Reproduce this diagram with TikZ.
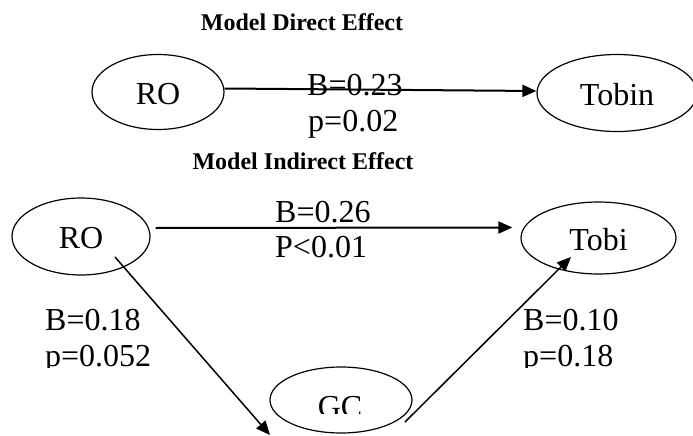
\documentclass[tikz,border=0pt]{standalone}
\usepackage{fontspec}
\setmainfont{Liberation Serif}
\usetikzlibrary{arrows.meta,shapes.geometric}
\begin{document}
\begin{tikzpicture}[x=1pt,y=-1pt,
  oval/.style={ellipse,draw,line width=1.2pt,inner sep=0pt,
    font=\fontsize{32}{36}\selectfont,text height=24pt,text depth=-2pt},
  lbl/.style={inner sep=0pt,anchor=base west,font=\fontsize{32}{36}\selectfont},
  ttl/.style={inner sep=0pt,anchor=base,font=\fontsize{24}{28}\selectfont\bfseries},
  link/.style={-{Triangle[length=14pt,width=12pt]},line width=2pt},
  slant/.style={-{Triangle[length=14pt,width=12pt]},line width=1.5pt}]
\useasboundingbox (0,0) rectangle (693,436);
\fill[white] (0,0) rectangle (693,436);

% direct effect model
\node[ttl] (t1) at (302,31) {Model Direct Effect};
\node[oval,minimum width=132pt,minimum height=75pt] (ro1) at (158,92) {RO};
\node[oval,minimum width=160pt,minimum height=77pt] (tobin) at (617,93) {Tobin};
\draw[link] ([yshift=3.5pt]ro1.east) -- ([yshift=2pt]tobin.west);
\node[lbl] (b1) at (307,95) {B=0.23};
\node[lbl] (p1) at (308,131) {p=0.02};

% indirect effect model
\node[ttl] (t2) at (303,169) {Model Indirect Effect};
\node[oval,minimum width=138pt,minimum height=77pt] (ro2) at (81,236.5) {RO};
\node[oval,minimum width=155pt,minimum height=72pt] (tobi) at (598.5,238) {Tobi};
\node[oval,minimum width=142pt,minimum height=66pt] (gc) at (341,400) {};
\begin{scope}
  \clip (0,0) rectangle (693,413);
  \node[inner sep=0pt,anchor=base,font=\fontsize{32}{36}\selectfont] (gct) at (340,417) {GC};
\end{scope}

\draw[link] ([shift={(5,-8.5)}]ro2.east) -- ([shift={(-8,-10.5)}]tobi.west);
\draw[slant] ([shift={(34,20.5)}]ro2.center) -- ([shift={(-71,35)}]gc.center);
\draw[slant] ([shift={(64,22)}]gc.center) -- ([shift={(-27.5,19)}]tobi.center);

\node[lbl] (b2) at (275,222) {B=0.26};
\node[lbl] (p2) at (275,257) {P<0.01};
\node[lbl] (b3) at (45,330) {B=0.18};
\node[lbl] (b4) at (523,330) {B=0.10};
\begin{scope}
  \clip (0,0) rectangle (693,367);
  \node[lbl] (p3) at (45,366) {p=0.052};
  \node[lbl] (p4) at (523,366) {p=0.18};
\end{scope}
\end{tikzpicture}
\end{document}
